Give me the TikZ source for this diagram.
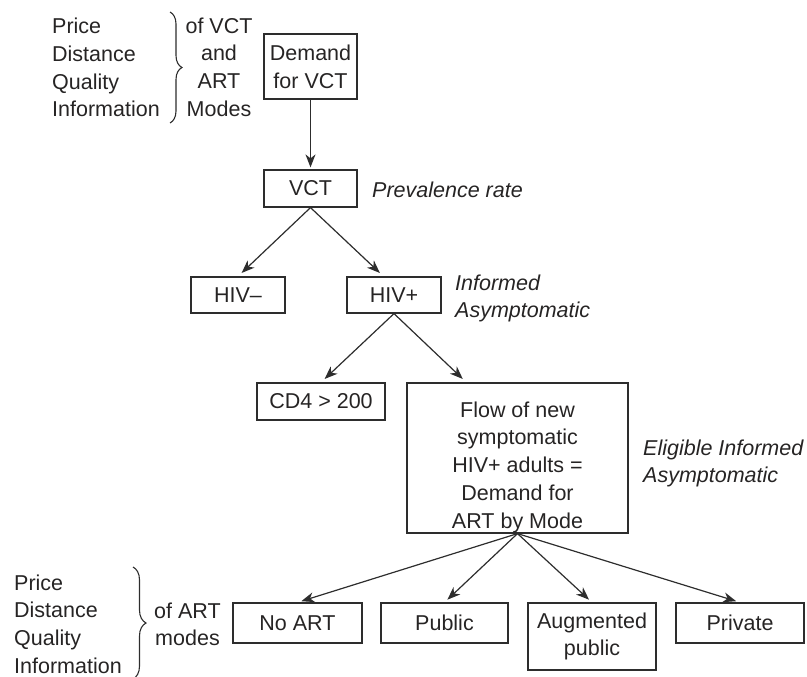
\documentclass[tikz,border=0pt]{standalone}
\usepackage{fontspec}
\setmainfont{Liberation Sans}
\usetikzlibrary{arrows.meta,calc,decorations.pathreplacing}
\definecolor{lc}{RGB}{45,45,45}
\definecolor{tc}{RGB}{38,36,36}
\newcommand\dfont{\fontsize{21.5}{27.7}\selectfont}
\tikzset{
  box/.style={draw=lc, line width=1.2pt, inner sep=0pt, align=center, text=tc, font=\dfont},
  lbl/.style={inner sep=0pt, text=tc, font=\dfont},
  ilbl/.style={inner sep=0pt, text=tc, font=\dfont\itshape, align=left},
  arr/.style={draw=lc, line width=1.2pt, -{Stealth[length=13pt,width=10pt,inset=4pt]}, shorten >=5pt},
  brc/.style={draw=lc, line width=1.1pt, decorate}
}
\begin{document}
\begin{tikzpicture}[x=1pt,y=-1pt]
\useasboundingbox (0,0) rectangle (807,677);
% top bracket group
\node[lbl, align=left, anchor=north west] (factors1) at (52,18) {Price\\Distance\\Quality\\Information};
\coordinate (b1t) at (170,12);
\coordinate (b1b) at (170,123);
\draw[brc, decoration={brace, amplitude=12pt}] (b1t) -- (b1b);
\node[lbl, align=center, anchor=north] (of1) at (219,17.5) {of VCT\\and\\ART\\Modes};
% boxes
\node[box, minimum width=93pt, minimum height=65pt] (demand) at (310.5,66.5) {Demand\\for VCT};
\node[box, minimum width=93pt, minimum height=37pt] (vct) at (310.5,188.5) {VCT};
\node[ilbl, anchor=base west] (prev) at (372,197) {Prevalence rate};
\node[box, minimum width=94pt, minimum height=36pt] (hivn) at (238,295) {HIV–};
\node[box, minimum width=94pt, minimum height=36pt] (hivp) at (394,295) {HIV+};
\node[ilbl, anchor=north west] (inf) at (455,274.5) {Informed\\Asymptomatic};
\node[box, minimum width=128pt, minimum height=37pt] (cd4) at (321,401.5) {CD4 > 200};
\node[box, minimum width=221pt, minimum height=150pt] (flow) at (517.5,458) {};
\node[lbl, align=center, anchor=north] (flowtxt) at (517.5,401.5) {Flow of new\\symptomatic\\HIV+ adults =\\Demand for\\ART by Mode};
\node[ilbl, anchor=north west] (elig) at (643,439.5) {Eligible Informed\\Asymptomatic};
\node[box, minimum width=129pt, minimum height=40pt] (noart) at (297.5,623) {No ART};
\node[box, minimum width=127pt, minimum height=40pt] (public) at (444.5,623) {Public};
\node[box, minimum width=128pt, minimum height=67pt] (aug) at (592,636.5) {Augmented\\public};
\node[box, minimum width=128pt, minimum height=40pt] (private) at (740,623) {Private};
% bottom bracket group
\node[lbl, align=left, anchor=north west] (factors2) at (14,574.5) {Price\\Distance\\Quality\\Information};
\coordinate (b2t) at (133,567);
\coordinate (b2b) at (133,679);
\draw[brc, decoration={brace, amplitude=13pt}] (b2t) -- (b2b);
\node[lbl, align=center, anchor=north] (of2) at (187.5,602.5) {of ART\\modes};
% arrows
\draw[arr, shorten >=2pt] (demand.south) -- (vct.north);
\draw[arr] (vct.south) -- (hivn.north);
\draw[arr] (vct.south) -- ($(hivp.north west)!0.39!(hivp.north east)$);
\draw[arr] (hivp.south) -- (cd4.north);
\draw[arr] (hivp.south) -- ($(flow.north west)!0.27!(flow.north east)$);
\draw[arr, shorten >=4pt] (flow.south) -- (noart.north);
\draw[arr, shorten >=4pt] (flow.south) -- (public.north);
\draw[arr, shorten >=4pt] (flow.south) -- (aug.north);
\draw[arr, shorten >=4pt] (flow.south) -- (private.north);
\end{tikzpicture}
\end{document}
